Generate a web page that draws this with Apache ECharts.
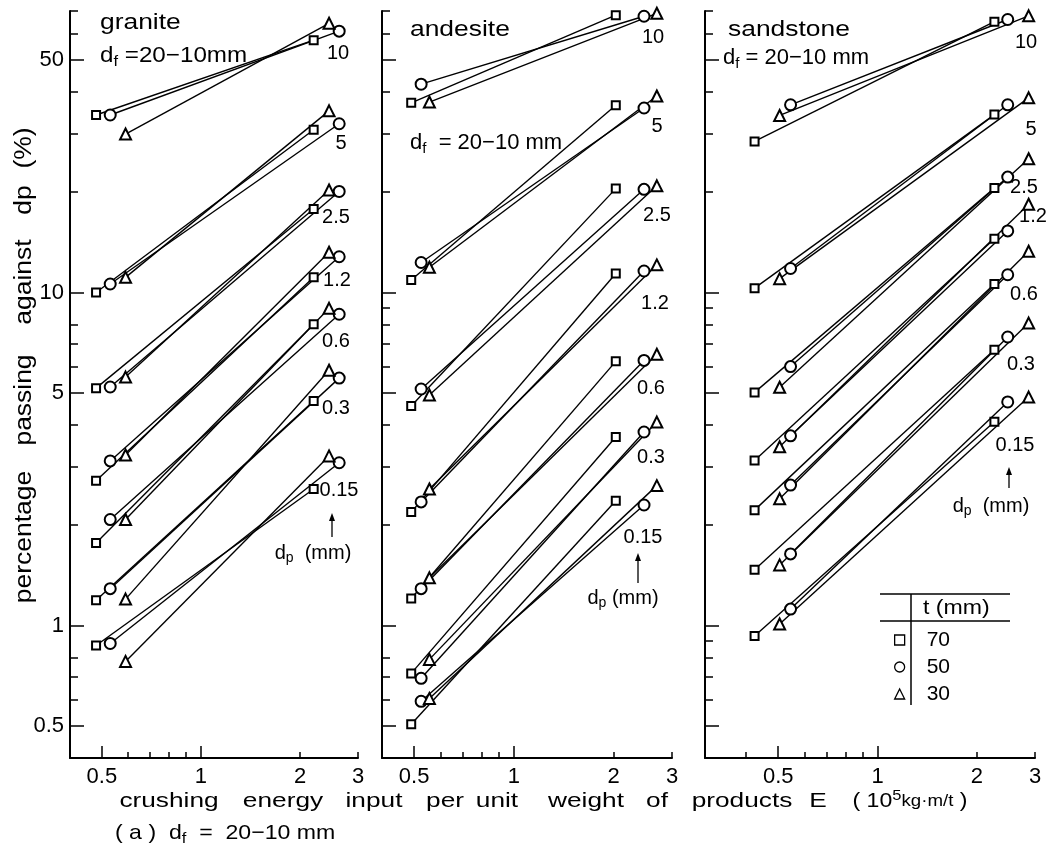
<!DOCTYPE html>
<html>
<head>
<meta charset="utf-8">
<title>percentage passing against dp vs crushing energy</title>
<script src="https://cdn.jsdelivr.net/npm/echarts@6.0.0/dist/echarts.min.js"></script>
<style>
  html, body { margin: 0; padding: 0; background: #fff; }
  #chart { width: 1051px; height: 850px; }
</style>
</head>
<body>
<div id="chart"></div>
<script>
// percentage passing against dp (%) vs crushing energy E (10^5 kg·m/t), df = 20-10 mm
const dpLabels = ['10', '5', '2.5', '1.2', '0.6', '0.3', '0.15']
const tLabels = ['70', '50', '30']

// E of the two runs for each plate thickness t
const graniteE70 = [0.48, 2.20]
const graniteE50 = [0.53, 2.63]
const graniteE30 = [0.59, 2.45]
const andesiteE70 = [0.49, 2.03]
const andesiteE50 = [0.525, 2.47]
const andesiteE30 = [0.556, 2.70]
const sandstoneE70 = [0.424, 2.26]
const sandstoneE50 = [0.545, 2.48]
const sandstoneE30 = [0.505, 2.87]

// passing (%) at [low E, high E], one row per dp (10 ... 0.15 mm)
const granite70 = [[34.1, 57.2], [10.0, 30.8], [5.16, 17.8], [2.72, 11.1], [1.77, 8.02], [1.19, 4.72], [0.871, 2.57]]
const granite50 = [[34.1, 60.9], [10.6, 32.1], [5.2, 20.1], [3.12, 12.8], [2.08, 8.6], [1.29, 5.53], [0.883, 3.08]]
const granite30 = [[29.9, 64.3], [11.1, 35.1], [5.57, 20.3], [3.25, 13.2], [2.08, 8.96], [1.20, 5.84], [0.78, 3.23]]

const andesite70 = [[37.1, 68], [10.9, 36.5], [4.56, 20.5], [2.19, 11.4], [1.205, 6.21], [0.718, 3.68], [0.505, 2.37]]
const andesite50 = [[42.2, 67.5], [12.3, 35.8], [5.13, 20.4], [2.35, 11.6], [1.29, 6.25], [0.694, 3.81], [0.592, 2.30]]
const andesite30 = [[37.3, 68.9], [11.9, 38.9], [4.92, 20.9], [2.57, 12.1], [1.39, 6.52], [0.791, 4.08], [0.604, 2.63]]

const sandstone70 = [[28.4, 65.0], [10.3, 34.2], [5.01, 20.6], [3.13, 14.5], [2.22, 10.6], [1.47, 6.73], [0.93, 4.09]]
const sandstone50 = [[36.6, 66], [11.8, 36.6], [5.99, 22.2], [3.71, 15.3], [2.64, 11.3], [1.64, 7.35], [1.12, 4.69]]
const sandstone30 = [[34.0, 67.7], [11.0, 38.4], [5.19, 25.2], [3.44, 18.4], [2.40, 13.3], [1.52, 8.09], [1.01, 4.85]]

// axis ticks
const yMajor = [0.5, 1, 5, 10, 50]
const yMinor1 = [0.6, 0.7, 0.8, 2, 3, 4, 6, 7, 8, 20, 30, 40, 60, 70]
const yMinor2 = [0.6, 0.7, 0.8, 2, 3, 4, 6, 7, 8, 9, 20, 30, 40, 60, 70]
const yMinor3 = [0.6, 0.7, 0.8, 0.9, 2, 3, 4, 6, 7, 8, 9, 20, 30, 40, 60, 70]
const xMajor = [0.5, 1]
const xMinor = [0.6, 0.7, 0.8, 0.9, 2, 3]
const xMinor3 = [0.4, 0.6, 0.7, 0.8, 0.9, 2, 3]
const xLabels = [0.5, 1, 2, 3]

const FONT = 'Liberation Sans'

const panels = [
  {E: [graniteE70, graniteE50, graniteE30], P: [granite70, granite50, granite30],
   xMin: 0.4, left: 70, width: 288, yMinor: yMinor1, xMinor: xMinor, yLabels: true},
  {E: [andesiteE70, andesiteE50, andesiteE30], P: [andesite70, andesite50, andesite30],
   xMin: 0.4, left: 382, width: 290, yMinor: yMinor2, xMinor: xMinor, yLabels: false},
  {E: [sandstoneE70, sandstoneE50, sandstoneE30], P: [sandstone70, sandstone50, sandstone30],
   xMin: 0.3, left: 705, width: 330, yMinor: yMinor3, xMinor: xMinor3, yLabels: false}
]

const fmt = v => String(+(+v).toPrecision(3))
const black = {color: '#000', width: 2}

const grid = []
const xAxis = []
const yAxis = []
const series = []

const symbols = ['emptyRect', 'emptyCircle', 'emptyTriangle']
const symbolSizes = [8, 11, 11]

panels.forEach((p, i) => {
  grid.push({left: p.left, top: 11, width: p.width, height: 747, containLabel: false, outerBoundsMode: 'none'})

  const xBase = {type: 'log', logBase: 10, gridIndex: i, min: p.xMin, max: 3, position: 'bottom',
    splitLine: {show: false}, minorTick: {show: false}}
  xAxis.push(Object.assign({}, xBase, {
    axisLine: {show: true, lineStyle: black},
    axisTick: {inside: true, length: 12, customValues: xMajor, lineStyle: {color: '#000', width: 1.5}},
    axisLabel: {customValues: xLabels, formatter: fmt, color: '#000', fontSize: 22, fontFamily: FONT, margin: 8}
  }))
  xAxis.push(Object.assign({}, xBase, {
    axisLine: {show: false},
    axisTick: {inside: true, length: 6, customValues: p.xMinor, lineStyle: {color: '#000', width: 1.5}},
    axisLabel: {show: false}
  }))

  const yBase = {type: 'log', logBase: 10, gridIndex: i, min: 0.4, max: 70, position: 'left',
    splitLine: {show: false}, minorTick: {show: false}}
  yAxis.push(Object.assign({}, yBase, {
    axisLine: {show: true, lineStyle: black},
    axisTick: {inside: true, length: 14, customValues: yMajor, lineStyle: {color: '#000', width: 1.5}},
    axisLabel: {show: p.yLabels, customValues: yMajor, formatter: fmt, color: '#000', fontSize: 22, fontFamily: FONT, margin: 6}
  }))
  yAxis.push(Object.assign({}, yBase, {
    axisLine: {show: false},
    axisTick: {inside: true, length: 8, customValues: p.yMinor, lineStyle: {color: '#000', width: 1.5}},
    axisLabel: {show: false}
  }))

  p.P.forEach((rows, k) => {
    rows.forEach(pair => {
      series.push({
        type: 'line', name: tLabels[k], xAxisIndex: 2 * i, yAxisIndex: 2 * i,
        data: [[p.E[k][0], pair[0]], [p.E[k][1], pair[1]]],
        symbol: symbols[k], symbolSize: symbolSizes[k], showAllSymbol: true,
        lineStyle: {color: '#000', width: 1.4},
        itemStyle: {color: '#000', borderWidth: 1.3},
        emphasis: {disabled: true}, silent: true, clip: false
      })
    })
  })
})

// ---- annotations ----
function txt(text, x, y, size, align, extra) {
  const a = align || 'center'
  return Object.assign({
    type: 'text', x: x, y: y, silent: true,
    style: {
      text: text, fill: '#000', fontSize: size, fontFamily: FONT,
      textAlign: a, align: a, textVerticalAlign: 'middle', verticalAlign: 'middle',
      rich: {
        sub: {fontSize: Math.round(size * 0.7), fontFamily: FONT, padding: [11, 0, 0, 0]},
        sup: {fontSize: Math.round(size * 0.7), fontFamily: FONT, padding: [0, 0, 11, 0]},
        sm: {fontSize: Math.round(size * 0.8), fontFamily: FONT}
      }
    }
  }, extra || {})
}

function arrow(x, yTop, yBottom) {
  return [
    {type: 'line', silent: true, shape: {x1: x, y1: yTop + 4, x2: x, y2: yBottom}, style: {stroke: '#000', lineWidth: 1.3}},
    {type: 'polygon', silent: true, shape: {points: [[x, yTop], [x - 3, yTop + 8], [x + 3, yTop + 8]]}, style: {fill: '#000'}}
  ]
}

// curve labels: [x, y] of each dp label, per panel
const dpPos1 = [[338, 53], [341, 143], [336, 217], [337, 280], [336, 341], [336, 408], [339, 490]]
const dpPos2 = [[653, 37], [657, 126], [657, 215], [655, 303], [651, 388], [651, 457], [643, 537]]
const dpPos3 = [[1026, 42], [1031, 129], [1024, 187], [1033, 216], [1024, 294], [1021, 364], [1015, 445]]

const elements = []
;[dpPos1, dpPos2, dpPos3].forEach(pos => {
  pos.forEach((xy, j) => elements.push(txt(dpLabels[j], xy[0], xy[1], 20)))
})

elements.push(...arrow(332, 513, 537), txt('d{sub|p}  (mm)', 313, 553, 20))
elements.push(...arrow(638, 553, 583), txt('d{sub|p} (mm)', 623, 598, 20))
elements.push(...arrow(1009, 467, 488), txt('d{sub|p}  (mm)', 991, 506, 20))

// rock names and feed size (stretched a little for the wide type of the original)
const wide = {scaleX: 1.2}
const wideF = {scaleX: 1.1}
elements.push(
  txt('granite', 100, 23, 22, 'left', wide),
  txt('d{sub|f} =20−10mm', 100, 56, 22, 'left', wideF),
  txt('andesite', 410, 30, 22, 'left', wide),
  txt('d{sub|f}  = 20−10 mm', 410, 143, 22, 'left'),
  txt('sandstone', 728, 30, 22, 'left', wide),
  txt('d{sub|f} = 20−10 mm', 723, 58, 22, 'left')
)

// y title, word by word (rotated)
;[['percentage', 537], ['passing', 400], ['against', 282], ['dp', 200], ['(%)', 148]].forEach(w => {
  elements.push(txt(w[0], 25, w[1], 23, 'center', {rotation: Math.PI / 2, scaleX: 1.15}))
})

// x title, word by word
;[['crushing', 169], ['energy', 283], ['input', 374], ['per', 445], ['unit', 497],
  ['weight', 586], ['of', 657], ['products', 742], ['E', 818]].forEach(w => {
  elements.push(txt(w[0], w[1], 801, 21, 'center', {scaleX: 1.25}))
})
elements.push(txt('( 10{sup|5}{sm|kg·m/t} )', 910, 801, 21, 'center', {scaleX: 1.1}))
elements.push(txt('( a )  d{sub|f}  =  20−10 mm', 115, 833, 21, 'left', {scaleX: 1.1}))

// legend frame
elements.push(
  {type: 'line', silent: true, shape: {x1: 880, y1: 594, x2: 1010, y2: 594}, style: {stroke: '#000', lineWidth: 1.5}},
  {type: 'line', silent: true, shape: {x1: 880, y1: 621, x2: 1010, y2: 621}, style: {stroke: '#000', lineWidth: 1.5}},
  {type: 'line', silent: true, shape: {x1: 911, y1: 594, x2: 911, y2: 705}, style: {stroke: '#000', lineWidth: 1.5}},
  txt('t (mm)', 923, 608, 21, 'left', {scaleX: 1.1})
)

const chart = echarts.init(document.getElementById('chart'), null, {renderer: 'canvas'})
chart.setOption({
  animation: false,
  backgroundColor: '#fff',
  grid: grid,
  xAxis: xAxis,
  yAxis: yAxis,
  legend: {
    orient: 'vertical', left: 889, top: 624, itemWidth: 10, itemHeight: 10, itemGap: 5,
    selectedMode: false,
    data: [{name: '70', icon: 'rect'}, {name: '50', icon: 'circle'}, {name: '30', icon: 'triangle'}],
    itemStyle: {color: '#fff', borderColor: '#000', borderWidth: 1.3},
    textStyle: {fontSize: 21, color: '#000', fontFamily: FONT, lineHeight: 22, padding: [0, 0, 0, 17]}
  },
  series: series,
  graphic: {elements: elements}
})
window.addEventListener('resize', () => chart.resize())
</script>
</body>
</html>
